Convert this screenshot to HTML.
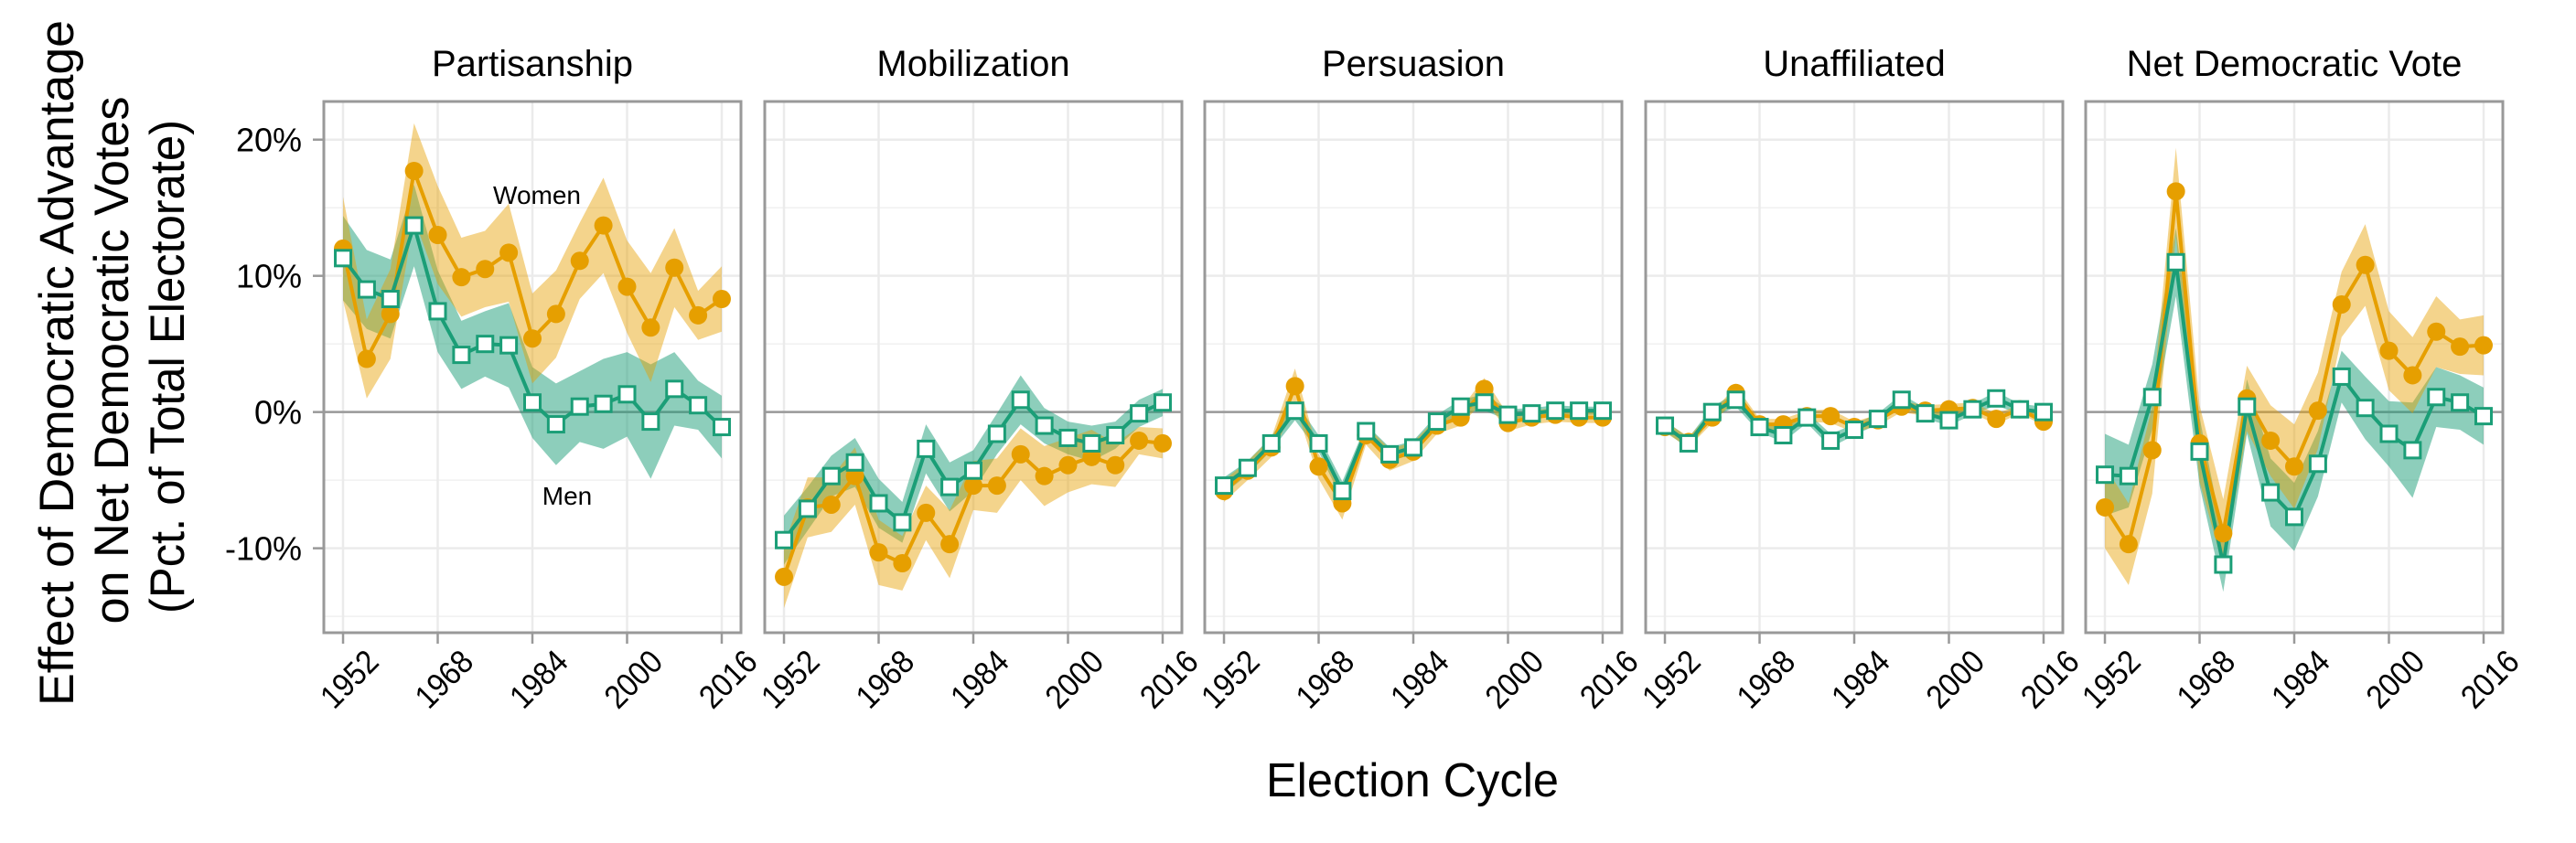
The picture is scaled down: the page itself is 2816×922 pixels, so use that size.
<!DOCTYPE html>
<html><head><meta charset="utf-8"><style>
html,body{margin:0;padding:0;background:#fff}
svg{display:block}
text{font-family:"Liberation Sans",sans-serif;fill:#000}
</style></head><body>
<svg id="chart" xmlns="http://www.w3.org/2000/svg" width="2816" height="922" viewBox="0 0 2816 922">
<rect x="0" y="0" width="2816" height="922" fill="#fff"/>
<g id="ytitle">
<text transform="translate(80,397) rotate(-90)" text-anchor="middle" font-size="53" textLength="750" lengthAdjust="spacingAndGlyphs">Effect of Democratic Advantage</text>
<text transform="translate(140,394) rotate(-90)" text-anchor="middle" font-size="53" textLength="577" lengthAdjust="spacingAndGlyphs">on Net Democratic Votes</text>
<text transform="translate(201,401) rotate(-90)" text-anchor="middle" font-size="53" textLength="540" lengthAdjust="spacingAndGlyphs">(Pct. of Total Electorate)</text>
</g>
<text x="1544" y="871" text-anchor="middle" font-size="52" textLength="320" lengthAdjust="spacingAndGlyphs">Election Cycle</text>
<g id="panels"></g>
</svg>
<script>
const years = [1952,1956,1960,1964,1968,1972,1976,1980,1984,1988,1992,1996,2000,2004,2008,2012,2016];
const panelTitles = ["Partisanship","Mobilization","Persuasion","Unaffiliated","Net Democratic Vote"];
const yTicks = [20,10,0,-10];
const yTickLabels = ["20%","10%","0%","-10%"];
const xTicks = [1952,1968,1984,2000,2016];
const xTickLabels = ["1952","1968","1984","2000","2016"];

const womenPartisanship = [12.0,3.9,7.2,17.7,13.0,9.9,10.5,11.7,5.4,7.2,11.1,13.7,9.2,6.2,10.6,7.1,8.3];
const menPartisanship = [11.3,9.0,8.3,13.7,7.4,4.2,5.0,4.9,0.7,-0.9,0.4,0.6,1.3,-0.7,1.7,0.5,-1.1];
const womenPartisanshipCI = [3.8,2.9,3.3,3.5,3.6,2.9,2.8,3.6,3.3,3.2,2.8,3.5,3.4,4.0,2.9,1.8,2.4];
const menPartisanshipCI = [3.1,2.9,2.9,3.0,3.0,2.5,2.4,3.1,2.6,3.0,2.6,3.3,3.1,4.2,2.7,1.8,2.3];

const womenMobilization = [-12.1,-7.0,-6.8,-4.7,-10.3,-11.1,-7.4,-9.7,-5.4,-5.4,-3.1,-4.7,-3.9,-3.3,-3.9,-2.1,-2.3];
const menMobilization = [-9.4,-7.1,-4.7,-3.7,-6.7,-8.1,-2.7,-5.5,-4.3,-1.6,0.9,-1.0,-1.9,-2.3,-1.7,-0.1,0.7];
const womenMobilizationCI = [2.3,2.2,2.0,2.1,2.4,2.0,2.0,2.5,1.8,2.0,1.9,2.2,2.0,2.0,1.6,1.0,1.1];
const menMobilizationCI = [1.8,1.6,1.5,1.8,1.8,1.5,1.8,1.8,1.5,1.5,1.8,1.3,1.2,1.3,1.0,1.0,1.0];

const womenPersuasion = [-5.8,-4.3,-2.6,1.9,-4.0,-6.7,-1.7,-3.5,-2.9,-1.0,-0.4,1.7,-0.8,-0.4,-0.2,-0.4,-0.4];
const menPersuasion = [-5.4,-4.1,-2.3,0.1,-2.3,-5.8,-1.4,-3.1,-2.6,-0.7,0.4,0.7,-0.2,-0.1,0.1,0.1,0.1];
const womenPersuasionCI = [0.8,0.7,0.7,1.3,0.9,1.2,0.7,0.8,0.7,0.6,0.6,0.8,0.6,0.5,0.5,0.4,0.4];
const menPersuasionCI = [0.6,0.5,0.5,0.7,0.6,0.7,0.5,0.5,0.5,0.5,0.5,0.6,0.4,0.4,0.4,0.3,0.3];

const womenUnaffiliated = [-1.1,-2.2,-0.4,1.4,-0.9,-0.9,-0.3,-0.3,-1.1,-0.6,0.4,0.1,0.2,0.3,-0.5,0.2,-0.7];
const menUnaffiliated = [-1.0,-2.3,0.0,0.9,-1.1,-1.7,-0.4,-2.1,-1.3,-0.5,0.9,-0.1,-0.6,0.2,1.0,0.2,0.0];
const womenUnaffiliatedCI = [0.4,0.4,0.4,0.5,0.4,0.4,0.4,0.5,0.4,0.4,0.4,0.4,0.4,0.4,0.4,0.3,0.3];
const menUnaffiliatedCI = [0.4,0.4,0.4,0.5,0.4,0.5,0.4,0.5,0.4,0.4,0.4,0.4,0.4,0.4,0.5,0.4,0.4];

const womenNet = [-7.0,-9.7,-2.8,16.2,-2.3,-8.9,1.0,-2.1,-4.0,0.1,7.9,10.8,4.5,2.7,5.9,4.8,4.9];
const menNet = [-4.6,-4.7,1.1,11.0,-2.9,-11.2,0.4,-5.9,-7.7,-3.8,2.6,0.3,-1.6,-2.8,1.1,0.7,-0.3];
const womenNetCI = [3.0,3.0,3.2,3.2,2.8,2.5,2.4,2.6,3.1,2.8,2.4,3.0,2.9,2.8,2.6,2.0,2.2];
const menNetCI = [3.0,2.3,2.4,2.5,2.5,2.0,2.0,2.5,2.5,2.4,1.9,2.3,2.4,3.5,2.2,2.0,2.1];

const womenSeries = [womenPartisanship,womenMobilization,womenPersuasion,womenUnaffiliated,womenNet];
const menSeries = [menPartisanship,menMobilization,menPersuasion,menUnaffiliated,menNet];
const womenCI = [womenPartisanshipCI,womenMobilizationCI,womenPersuasionCI,womenUnaffiliatedCI,womenNetCI];
const menCI = [menPartisanshipCI,menMobilizationCI,menPersuasionCI,menUnaffiliatedCI,menNetCI];

const NS="http://www.w3.org/2000/svg";
const panelLeft0=354, panelW=456, panelStep=481.5, panelTop=111, panelBottom=692;
const xMin=1948.75, xMax=2019.25, yMin=-16.2, yMax=22.8;
const ORANGE="#E69F00", GREEN="#1B9E77";
function mk(tag,attrs,parent){const e=document.createElementNS(NS,tag);for(const k in attrs)e.setAttribute(k,attrs[k]);parent.appendChild(e);return e;}
function yScale(v){return panelTop+(yMax-v)/(yMax-yMin)*(panelBottom-panelTop);}
const root=document.getElementById('panels');

panelTitles.forEach((title,p)=>{
  const L=Math.round(panelLeft0+p*panelStep);
  const xs=v=>L+(v-xMin)/(xMax-xMin)*panelW;
  const g=mk('g',{},root);
  
  
  const t=mk('text',{x:L+panelW/2,y:83,'text-anchor':'middle','font-size':40},g);
  t.textContent=title;
  
  
  // minor grid
  [15,5,-5,-15].forEach(v=>{const l=mk('line',{x1:L,x2:L+panelW,y1:yScale(v),y2:yScale(v),stroke:'#f0f0f0','stroke-width':1.5},g);
    });
  yTicks.forEach(v=>{const l=mk('line',{x1:L,x2:L+panelW,y1:yScale(v),y2:yScale(v),stroke:'#ebebeb','stroke-width':2.5},g);
    });
  xTicks.forEach((v,i)=>{
    const l=mk('line',{x1:xs(v),x2:xs(v),y1:panelTop,y2:panelBottom,stroke:'#ebebeb','stroke-width':2.5},g);
    
    const tk=mk('line',{x1:xs(v),x2:xs(v),y1:panelBottom,y2:panelBottom+12,stroke:'#999','stroke-width':2.5},g);
    
    const lb=mk('text',{'text-anchor':'end','font-size':36,textLength:72,lengthAdjust:'spacingAndGlyphs',transform:`translate(${xs(v)+41},726) rotate(-45)`},g);
    lb.textContent=xTickLabels[i];
    
  });
  // zero line
  const z=mk('line',{x1:L,x2:L+panelW,y1:yScale(0),y2:yScale(0),stroke:'#999','stroke-width':2.5},g);
  
  // y axis only first panel
  if(p===0){yTicks.forEach((v,i)=>{
    const tk=mk('line',{x1:L-12,x2:L,y1:yScale(v),y2:yScale(v),stroke:'#999','stroke-width':2.5},g);
    
    const lb=mk('text',{x:330,y:yScale(v)+13,'text-anchor':'end','font-size':36},g);
    lb.textContent=yTickLabels[i];
    
  });}
  // bands & lines
  const series=[{v:menSeries[p],ci:menCI[p],c:GREEN,op:0.5,n:'men'},{v:womenSeries[p],ci:womenCI[p],c:ORANGE,op:0.45,n:'women'}];
  series.forEach(s=>{
    let up=years.map((yr,i)=>xs(yr)+','+yScale(s.v[i]+s.ci[i]));
    let lo=years.map((yr,i)=>xs(yr)+','+yScale(s.v[i]-s.ci[i])).reverse();
    const b=mk('polygon',{points:up.concat(lo).join(' '),fill:s.c,'fill-opacity':s.op},g);
    
  });
  // clip-free lines drawn after bands
  [series[1],series[0]].forEach(s=>{
    const pl=mk('polyline',{points:years.map((yr,i)=>xs(yr)+','+yScale(s.v[i])).join(' '),fill:'none',stroke:s.c,'stroke-width':4,'stroke-linejoin':'round'},g);
    
  });
  years.forEach((yr,i)=>{
    const c=mk('circle',{cx:xs(yr),cy:yScale(womenSeries[p][i]),r:10,fill:ORANGE},g);
    
  });
  years.forEach((yr,i)=>{
    const r=mk('rect',{x:xs(yr)-8.5,y:yScale(menSeries[p][i])-8.5,width:17,height:17,fill:'#fff',stroke:GREEN,'stroke-width':3},g);
    
  });
  const bd=mk('rect',{x:L,y:panelTop,width:panelW,height:panelBottom-panelTop,fill:'none',stroke:'#999','stroke-width':3},g);
  
  if(p===0){
    const w=mk('text',{x:587,y:223,'text-anchor':'middle','font-size':28},g);
    w.textContent='Women';
    
    const m=mk('text',{x:620,y:552,'text-anchor':'middle','font-size':28},g);
    m.textContent='Men';
    
  }
});
</script>
</body></html>
